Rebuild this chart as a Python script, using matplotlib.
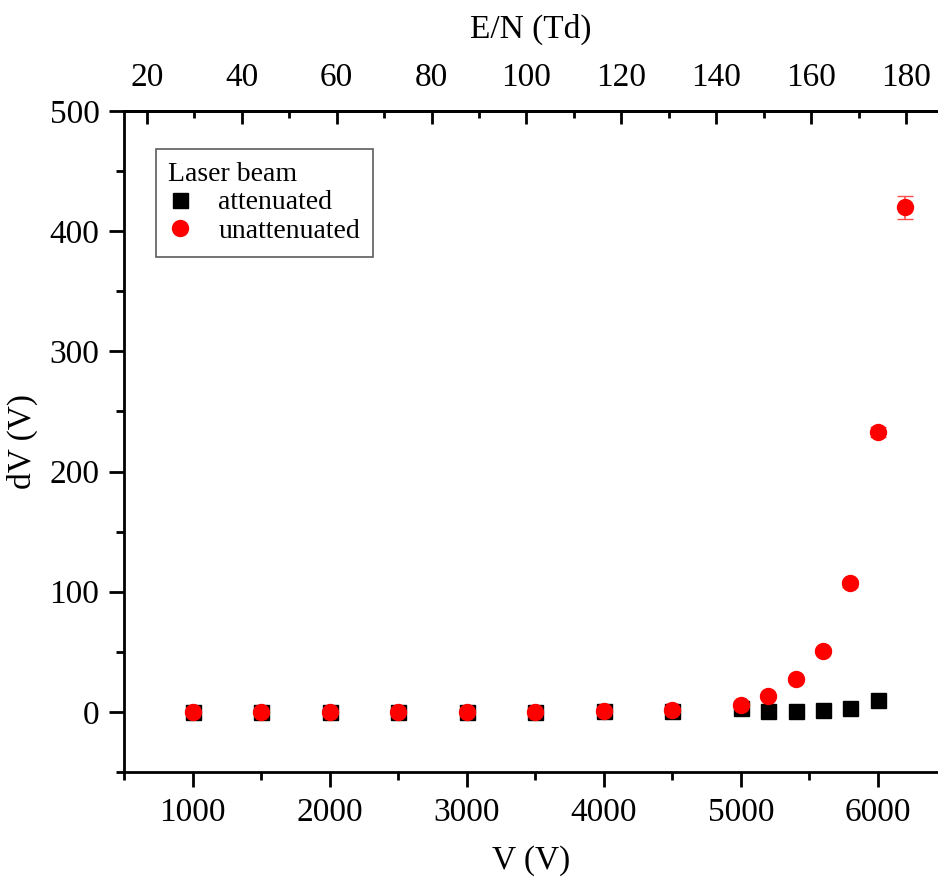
import numpy as np
import matplotlib
matplotlib.use("Agg")
import matplotlib.pyplot as plt
from matplotlib.ticker import MultipleLocator

# 数据
V_att = [1000, 1500, 2000, 2500, 3000, 3500, 4000, 4500, 5000, 5200, 5400, 5600, 5800, 6000]
dV_att = [0, 0, 0, 0, 0, 0, 0.5, 1, 3, 0.5, 1, 2, 3, 10]

V_unatt = [1000, 1500, 2000, 2500, 3000, 3500, 4000, 4500, 5000, 5200, 5400, 5600, 5800, 6000, 6200]
dV_unatt = [0, 0, 0, 0, 0, 0, 0.5, 1.5, 6, 13, 27, 51, 107, 233, 420]
err_unatt = [0.3, 0.3, 0.3, 0.3, 0.3, 0.3, 0.3, 0.5, 1, 1.5, 2, 2, 3, 4, 9.5]

# E/N 与 V 的线性换算
TD_A = 160.0 / (6206 - 665)
def v_to_td(v):
    return 20 + (np.asarray(v) - 665) * TD_A
def td_to_v(td):
    return 665 + (np.asarray(td) - 20) / TD_A

plt.rcParams['font.family'] = ['Liberation Serif', 'DejaVu Serif']

fig = plt.figure(figsize=(9.38, 8.83), dpi=100)
ax = fig.add_axes([0.1326, 0.1257, 0.8674, 0.7486])

ax.errorbar(V_unatt, dV_unatt, yerr=err_unatt, fmt='none', ecolor=(1, 0.3, 0.3),
            elinewidth=1.2, capsize=6, zorder=2)
ax.plot(V_att, dV_att, 's', color='black', markersize=10.8, label='attenuated', zorder=3)
ax.plot(V_unatt, dV_unatt, 'o', color='red', markersize=11.5, label='unattenuated', zorder=4)

ax.set_xlim(500, 6440)
ax.set_ylim(-50, 500)
ax.xaxis.set_major_locator(MultipleLocator(1000))
ax.xaxis.set_minor_locator(MultipleLocator(500))
ax.yaxis.set_major_locator(MultipleLocator(100))
ax.yaxis.set_minor_locator(MultipleLocator(50))

for s in ['left', 'bottom', 'top']:
    ax.spines[s].set_linewidth(2)
ax.spines['right'].set_visible(False)

ax.tick_params(which='major', direction='out', length=11, width=2, labelsize=24, pad=7)
ax.tick_params(which='minor', direction='out', length=6, width=2)

ax.set_xlabel('V (V)', fontsize=24, labelpad=13)
ax.set_ylabel('dV (V)', fontsize=24, labelpad=8)

sec = ax.secondary_xaxis('top', functions=(v_to_td, td_to_v))
sec.xaxis.set_major_locator(MultipleLocator(20))
sec.xaxis.set_minor_locator(MultipleLocator(10))
sec.spines['top'].set_linewidth(2)
sec.tick_params(which='major', direction='in', length=9, width=2, labelsize=24, pad=13)
sec.tick_params(which='minor', direction='in', length=5, width=2)
sec.set_xlabel('E/N (Td)', fontsize=24, labelpad=18)

leg = ax.legend(title='Laser beam', loc='upper left', bbox_to_anchor=(0.0388, 0.9425),
                borderaxespad=0, fontsize=20, title_fontsize=20, frameon=True,
                fancybox=False, edgecolor='#333333', handletextpad=1.0, borderpad=0.45,
                labelspacing=0.12, handlelength=0.8)
leg._legend_box.align = 'left'
leg.get_frame().set_linewidth(1.2)

fig.savefig('out.png', dpi=100)
